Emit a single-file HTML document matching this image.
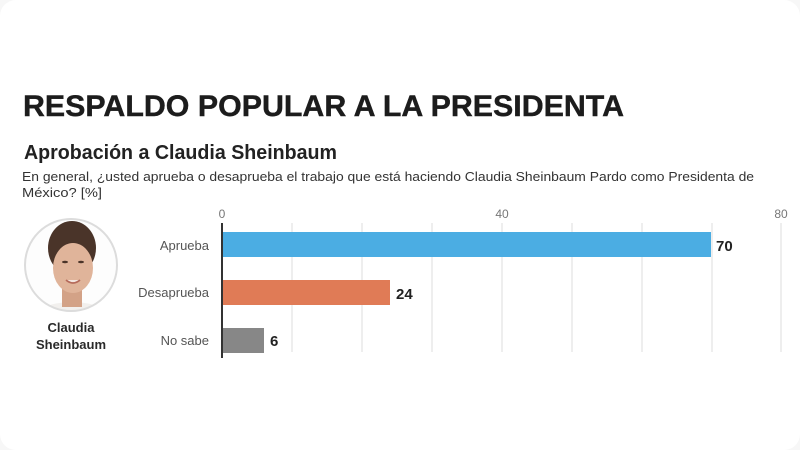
<!DOCTYPE html>
<html>
<head>
<meta charset="utf-8">
<style>
  html,body{margin:0;padding:0;background:#f7f7f7;}
  svg{display:block;}
  text{font-family:"Liberation Sans", sans-serif;}
</style>
</head>
<body>
<svg width="800" height="450" viewBox="0 0 800 450" xmlns="http://www.w3.org/2000/svg">
  <rect x="0" y="0" width="800" height="450" rx="16" ry="16" fill="#ffffff"/>

  <!-- Titles -->
  <text x="23" y="116" font-size="30" font-weight="bold" fill="#1c1c1c" textLength="601" lengthAdjust="spacingAndGlyphs" stroke="#1c1c1c" stroke-width="0.4">RESPALDO POPULAR A LA PRESIDENTA</text>
  <text x="24" y="159" font-size="20" font-weight="bold" fill="#222" textLength="313" lengthAdjust="spacingAndGlyphs">Aprobación a Claudia Sheinbaum</text>
  <text x="22" y="181" font-size="13" fill="#333" textLength="732" lengthAdjust="spacingAndGlyphs">En general, ¿usted aprueba o desaprueba el trabajo que está haciendo Claudia Sheinbaum Pardo como Presidenta de</text>
  <text x="22" y="197" font-size="13" fill="#333" textLength="80" lengthAdjust="spacingAndGlyphs">México?  [%]</text>

  <!-- Photo -->
  <defs>
    <clipPath id="c"><circle cx="71" cy="265" r="46"/></clipPath>
  </defs>
  <g clip-path="url(#c)">
    <rect x="20" y="215" width="102" height="102" fill="#fdfdfd"/>
    <!-- shirt -->
    <ellipse cx="72" cy="322" rx="42" ry="20" fill="#f2f0ee"/>
    <!-- neck -->
    <rect x="62" y="285" width="20" height="22" fill="#d3a287"/>
    <!-- hair -->
    <ellipse cx="72" cy="248" rx="24" ry="27" fill="#4a3429"/>
    <!-- face -->
    <ellipse cx="73" cy="268" rx="20" ry="25" fill="#e0b49a"/>
    <!-- eyes -->
    <ellipse cx="65" cy="262" rx="3" ry="1.3" fill="#4a3328"/>
    <ellipse cx="81" cy="262" rx="3" ry="1.3" fill="#4a3328"/>
    <!-- mouth -->
    <path d="M66 280 Q73 286 80 280" stroke="#b56a5a" stroke-width="1.8" fill="#f3e6e0"/>
  </g>
  <circle cx="71" cy="265" r="46" fill="none" stroke="#dcdcdc" stroke-width="2"/>
  <text x="71" y="332" font-size="13" font-weight="bold" fill="#2a2a2a" text-anchor="middle">Claudia</text>
  <text x="71" y="349" font-size="13" font-weight="bold" fill="#2a2a2a" text-anchor="middle">Sheinbaum</text>

  <!-- Gridlines -->
  <g stroke="#dedede" stroke-width="1">
    <line x1="292" y1="223" x2="292" y2="352"/>
    <line x1="362" y1="223" x2="362" y2="352"/>
    <line x1="432" y1="223" x2="432" y2="352"/>
    <line x1="502" y1="223" x2="502" y2="352"/>
    <line x1="572" y1="223" x2="572" y2="352"/>
    <line x1="642" y1="223" x2="642" y2="352"/>
    <line x1="712" y1="223" x2="712" y2="352"/>
    <line x1="781" y1="223" x2="781" y2="352"/>
  </g>

  <!-- Tick labels -->
  <g font-size="12" fill="#777" text-anchor="middle">
    <text x="222" y="218">0</text>
    <text x="502" y="218">40</text>
    <text x="781" y="218">80</text>
  </g>

  <!-- Bars -->
  <rect x="222" y="232" width="489" height="25" fill="#4badE3"/>
  <rect x="222" y="280" width="168" height="25" fill="#e07b56"/>
  <rect x="222" y="328" width="42" height="25" fill="#878787"/>

  <!-- Axis -->
  <line x1="222" y1="223" x2="222" y2="358" stroke="#333" stroke-width="2"/>

  <!-- Category labels -->
  <g font-size="13" fill="#555" text-anchor="end">
    <text x="209" y="250">Aprueba</text>
    <text x="209" y="297">Desaprueba</text>
    <text x="209" y="345">No sabe</text>
  </g>

  <!-- Values -->
  <g font-size="15" font-weight="bold" fill="#222">
    <text x="716" y="251">70</text>
    <text x="396" y="299">24</text>
    <text x="270" y="346">6</text>
  </g>
</svg>
</body>
</html>
